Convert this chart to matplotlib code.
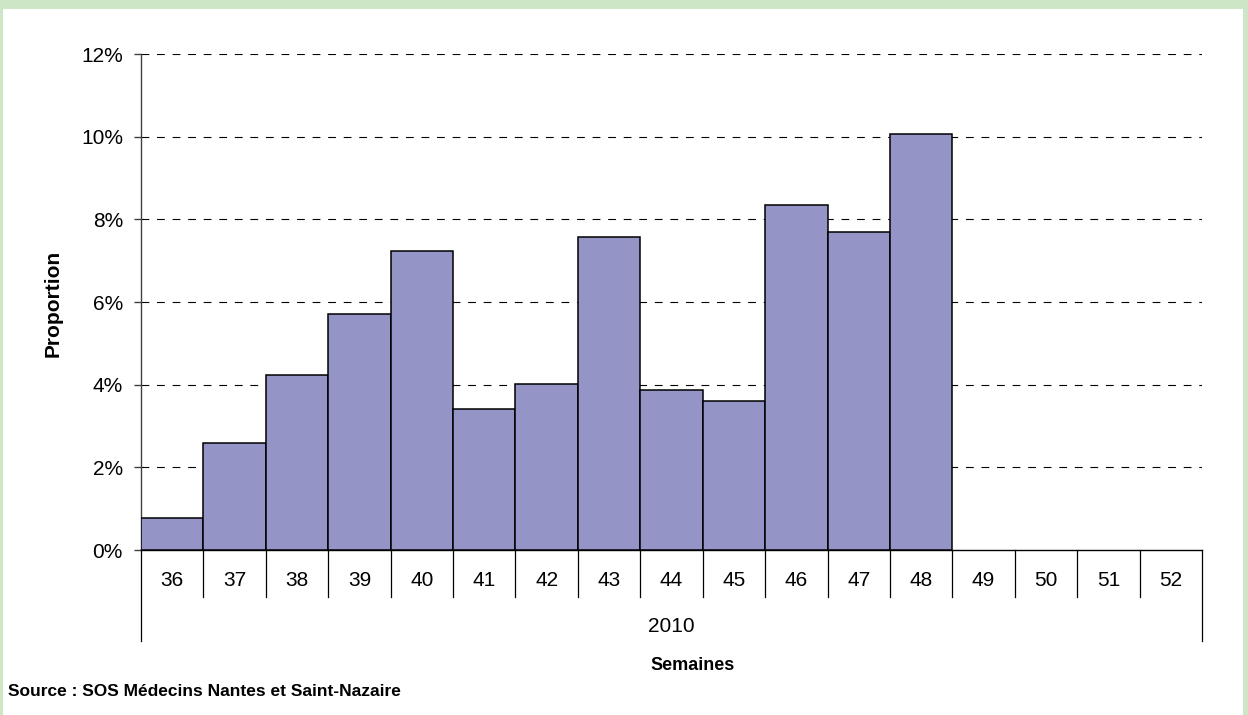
import matplotlib
matplotlib.use("Agg")
import matplotlib.pyplot as plt
from matplotlib.patches import Rectangle
from matplotlib.lines import Line2D
import matplotlib.transforms as mtransforms

weeks = ["36", "37", "38", "39", "40", "41", "42", "43", "44", "45", "46", "47", "48", "49", "50", "51", "52"]
values = [0.77, 2.59, 4.23, 5.71, 7.23, 3.41, 4.01, 7.57, 3.87, 3.60, 8.34, 7.69, 10.06]
yticks = [0, 2, 4, 6, 8, 10, 12]
year_label = "2010"

plt.rcParams['font.family'] = ['Liberation Sans', 'DejaVu Sans']

W, H = 1248, 715
fig = plt.figure(figsize=(W / 100, H / 100), dpi=100)
fig.patch.set_facecolor('#cde6c5')
fig.add_artist(Rectangle((3 / W, 0), (1243 - 3) / W, (H - 9) / H, transform=fig.transFigure,
                         facecolor='white', edgecolor='none', zorder=0))

left, right, top, bottom = 141, 1202, 54, 550
ax = fig.add_axes([left / W, (H - bottom) / H, (right - left) / W, (bottom - top) / H])
ax.set_facecolor('none')

n = len(weeks)
xs = list(range(len(values)))
ax.bar(xs, values, width=1.0, color='#9494c6', edgecolor='black', linewidth=1.1, zorder=3)

ax.set_xlim(-0.5, n - 0.5)
ax.set_ylim(0, 12)
ax.set_yticks(yticks)
ax.set_yticklabels([f"{v}%" for v in yticks], fontsize=15)
ax.tick_params(axis='y', direction='out', length=5, width=1, color='#404040', pad=8)
ax.set_xticks([])
for s in ['top', 'right']:
    ax.spines[s].set_visible(False)
ax.spines['left'].set_color('#404040')
ax.spines['left'].set_linewidth(1)
ax.spines['bottom'].set_color('black')
ax.spines['bottom'].set_linewidth(1)

for v in yticks[1:]:
    ax.axhline(v, color='black', linewidth=0.8, linestyle=(0, (7, 7)), zorder=1)

ph = bottom - top
trans = mtransforms.blended_transform_factory(ax.transData, ax.transAxes)
short = -(597 - bottom) / ph
long_ = -(641 - bottom) / ph
for i in range(n + 1):
    xb = i - 0.5
    y1 = long_ if i in (0, n) else short
    ax.add_line(Line2D([xb, xb], [0, y1], transform=trans, color='black', linewidth=0.9, clip_on=False))

for i, w in enumerate(weeks):
    ax.text(i, -(580 - bottom) / ph, w, transform=trans, ha='center', va='center', fontsize=15)
ax.text((n - 1) / 2, -(627 - bottom) / ph, year_label, transform=trans, ha='center', va='center', fontsize=15)

fig.text(53 / W, 1 - 303 / H, "Proportion", rotation=90, ha='center', va='center', fontsize=15, fontweight='bold')
fig.text(693 / W, 1 - 665 / H, "Semaines", ha='center', va='center', fontsize=13, fontweight='bold')
fig.text(8 / W, 1 - 691 / H, "Source : SOS Médecins Nantes et Saint-Nazaire", ha='left', va='center',
         fontsize=12.5, fontweight='bold')

fig.savefig("out.png", dpi=100, facecolor=fig.get_facecolor())
